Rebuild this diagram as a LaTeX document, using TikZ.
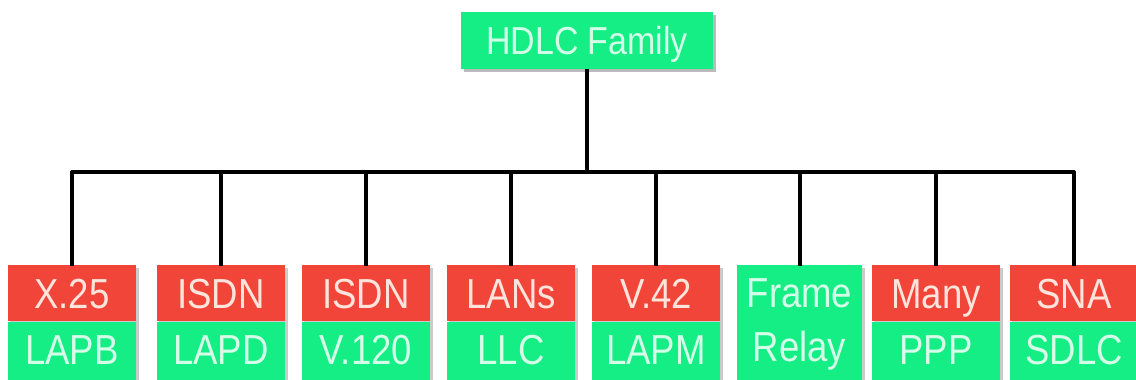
\documentclass[tikz,border=0pt]{standalone}
\usepackage{fontspec}
\setmainfont{Liberation Sans}
\usetikzlibrary{shadows,calc}
\definecolor{boxred}{HTML}{F2453A}
\definecolor{boxgreen}{HTML}{14EE84}
\definecolor{txtred}{HTML}{FFE4DC}
\definecolor{txtgreen}{HTML}{D4FFE8}
\tikzset{
  x=1pt, y=-1pt,
  redbox/.style={fill=boxred, text=txtred, minimum width=128pt, minimum height=56pt, inner sep=0pt,
    text height=30pt, text depth=0pt,
    font=\fontsize{42}{42}\selectfont, anchor=north},
  greenbox/.style={fill=boxgreen, text=txtgreen, minimum width=128pt, minimum height=62pt, inner sep=0pt,
    text height=30pt, text depth=6pt,
    font=\fontsize{42}{42}\selectfont, anchor=north},
  topbox/.style={fill=boxgreen, text=txtgreen, minimum width=252pt, minimum height=57pt, inner sep=0pt,
    text height=28pt, text depth=0pt,
    font=\fontsize{39}{39}\selectfont, drop shadow={shadow xshift=3pt, shadow yshift=-3pt, fill=black!45, opacity=0.6}},
  shad/.style={fill=black!40, opacity=0.5},
  conn/.style={line width=4pt, black},
}
\newcommand{\nt}[1]{\scalebox{0.87}[1]{#1}}
\begin{document}
\begin{tikzpicture}
\useasboundingbox (0,0) rectangle (1136,380);
\fill[white] (0,0) rectangle (1136,380);
% top
\node[topbox] (top) at (587,40) {\nt{HDLC Family}};
\coordinate (bar) at (585,172);
% bottom boxes
\foreach \i/\cx/\r/\g in {1/72/X.25/LAPB, 2/221/ISDN/LAPD, 3/366/ISDN/V.120, 4/511/LANs/LLC, 5/656/V.42/LAPM, 7/936/Many/PPP, 8/1074/SNA/SDLC}{
  \fill[shad] (\cx-62,268) rectangle (\cx+67,385);
  \node[redbox] (r\i) at (\cx,265) {\nt{\r}};
  \node[greenbox] (g\i) at (r\i.south) {\nt{\g}};
}
\fill[shad] (737,268) rectangle (865,385);
\node[fill=boxgreen, text=txtgreen, minimum width=125pt, minimum height=118pt, inner sep=0pt, anchor=north,
  font=\fontsize{42}{54}\selectfont, align=center] (r6) at (799.5,265) {\nt{Frame}\\\nt{Relay}};
% connectors
\draw[conn] (top.south) -- (top.south |- bar);
\draw[conn, line join=round] ([yshift=-1pt]r1.north) -- (r1.north |- bar) -- (r8.north |- bar) -- ([yshift=-1pt]r8.north);
\foreach \i in {2,3,4,5,6,7}{
  \draw[conn] (r\i.north |- bar) -- ([yshift=-1pt]r\i.north);
}
\end{tikzpicture}
\end{document}
